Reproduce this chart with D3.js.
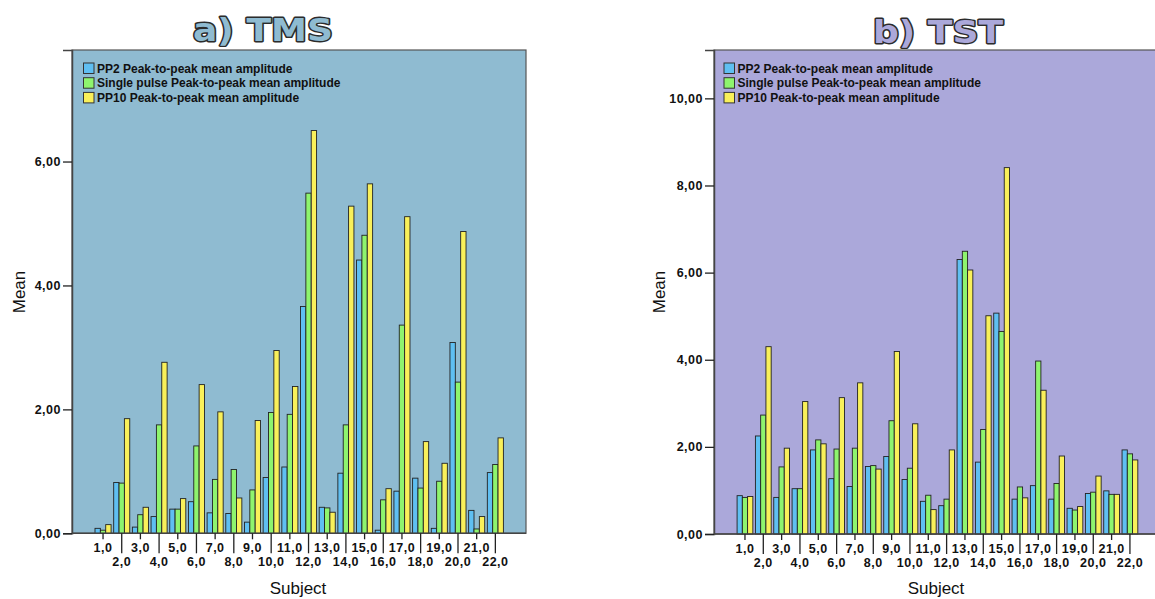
<!DOCTYPE html>
<html lang="en">
<head>
    <meta charset="utf-8"/>
    <title>TMS / TST peak-to-peak amplitudes</title>
    <script src="https://d3js.org/d3.v7.min.js"></script>
    <style>
        body { margin: 0; background: #fff; }
        text { font-family: "Liberation Sans", Arial, sans-serif; }
        .tick text { font-weight: bold; font-size: 12.5px; fill: #111; letter-spacing: 0.5px; }
    </style>
</head>
<body>
<div id="viz">
    <svg width="1155" height="599"></svg>
</div>

<script type="text/javascript">

    // categorias (sujetos)
    const subjects = [1, 2, 3, 4, 5, 6, 7, 8, 9, 10, 11, 12, 13, 14, 15, 16, 17, 18, 19, 20, 21, 22];
    const seriesNames = ["PP2 Peak-to-peak mean amplitude",
        "Single pulse Peak-to-peak mean amplitude",
        "PP10 Peak-to-peak mean amplitude"];

    // a) TMS
    const tmsPP2 = [0.08, 0.82, 0.10, 0.27, 0.39, 0.51, 0.33, 0.32, 0.18, 0.90, 1.07, 3.66,
        0.42, 0.97, 4.41, 0.05, 0.68, 0.89, 0.08, 3.08, 0.37, 0.98];
    const tmsSingle = [0.05, 0.81, 0.30, 1.75, 0.39, 1.41, 0.87, 1.03, 0.70, 1.95, 1.92, 5.49,
        0.41, 1.75, 4.81, 0.54, 3.36, 0.73, 0.84, 2.44, 0.07, 1.11];
    const tmsPP10 = [0.14, 1.85, 0.42, 2.76, 0.56, 2.40, 1.96, 0.57, 1.82, 2.95, 2.37, 6.50,
        0.34, 5.28, 5.64, 0.72, 5.11, 1.48, 1.13, 4.87, 0.27, 1.54];
    const tmsTicks = [0, 2, 4, 6];

    // b) TST
    const tstPP2 = [0.88, 2.25, 0.84, 1.04, 1.93, 1.27, 1.09, 1.55, 1.78, 1.25, 0.75, 0.65,
        6.30, 1.65, 5.07, 0.80, 1.11, 0.80, 0.59, 0.93, 0.99, 1.93];
    const tstSingle = [0.84, 2.73, 1.54, 1.04, 2.16, 1.95, 1.97, 1.57, 2.60, 1.51, 0.89, 0.80,
        6.49, 2.40, 4.65, 1.08, 3.97, 1.16, 0.55, 0.96, 0.91, 1.84];
    const tstPP10 = [0.86, 4.30, 1.97, 3.04, 2.07, 3.13, 3.47, 1.49, 4.19, 2.53, 0.56, 1.93,
        6.06, 5.01, 8.41, 0.83, 3.30, 1.79, 0.63, 1.33, 0.91, 1.70];
    const tstTicks = [0, 2, 4, 6, 8, 10];

    // colores
    const barColors = ["#5fbff2", "#8ef46e", "#f9f05a"];

    const svg = d3.select("svg");
    const fmtY = d => d3.format(".2f")(d).replace(".", ",");
    const fmtX = d => d3.format(".1f")(d).replace(".", ",");

    /*
    * dibuja un panel completo
    */
    function drawPanel(p) {
        const table = subjects.map((s, i) => ({subject: s, values: p.series.map(v => v[i])}));

        let y = d3.scaleLinear().domain([0, p.yMax]).range([p.bottom, p.top]);
        let x = d3.scaleBand().domain(subjects).range(p.bandRange)
            .paddingInner(0.14).paddingOuter(0.07);
        let xs = d3.scaleBand().domain([0, 1, 2]).range([0, x.bandwidth()]);

        // fondo
        svg.append("rect")
            .attr("x", p.left).attr("y", p.top)
            .attr("width", p.right - p.left).attr("height", p.bottom - p.top)
            .attr("fill", p.bg)
            .attr("stroke", "#555").attr("stroke-width", 1.2);

        // barras
        let groups = svg.append("g").selectAll("g")
            .data(table).enter()
            .append("g")
            .attr("transform", d => "translate(" + x(d.subject) + ",0)");

        groups.selectAll("rect")
            .data(d => d.values).enter()
            .append("rect")
            .attr("x", (d, i) => xs(i))
            .attr("y", d => y(d))
            .attr("width", xs.bandwidth())
            .attr("height", d => y(0) - y(d))
            .attr("fill", (d, i) => barColors[i])
            .attr("stroke", "#222")
            .attr("stroke-width", 0.9);

        // eje y
        let yAxis = d3.axisLeft(y).tickValues(p.ticks).tickSize(9).tickPadding(2).tickFormat(fmtY);
        let gy = svg.append("g")
            .attr("transform", "translate(" + p.left + ",0)")
            .call(yAxis);
        gy.select(".domain").attr("stroke", "#444").attr("stroke-width", 1.5);
        gy.selectAll(".tick line").attr("stroke", "#222").attr("stroke-width", 1.3);

        // eje x, los pares van con linea larga y en segunda fila
        let xAxis = d3.axisBottom(x).tickSize(6).tickPadding(5).tickFormat(fmtX);
        let gx = svg.append("g")
            .attr("transform", "translate(0," + p.bottom + ")")
            .call(xAxis);
        gx.select(".domain")
            .attr("d", "M" + p.left + ",0H" + p.right)
            .attr("stroke", "#444").attr("stroke-width", 1.6);
        gx.selectAll(".tick line")
            .attr("stroke", "#222").attr("stroke-width", 1.3)
            .attr("y2", d => d % 2 === 0 ? 20 : 6);
        gx.selectAll(".tick text")
            .attr("y", d => d % 2 === 0 ? 24 : 10);

        // titulos de ejes
        svg.append("text")
            .attr("transform", "translate(" + p.meanX + ",292) rotate(-90)")
            .attr("text-anchor", "middle").attr("dy", "0.35em")
            .style("font-size", "17px").style("fill", "#111")
            .text("Mean");
        svg.append("text")
            .attr("x", p.subjectX).attr("y", 594)
            .attr("text-anchor", "middle")
            .style("font-size", "17px").style("fill", "#111")
            .text("Subject");

        // titulo del panel
        svg.append("text")
            .attr("x", p.titleX).attr("y", p.titleY)
            .attr("text-anchor", "middle")
            .attr("textLength", p.titleW).attr("lengthAdjust", "spacingAndGlyphs")
            .style("font-family", "'DejaVu Sans', sans-serif")
            .style("font-weight", "bold").style("font-size", "32px")
            .style("fill", p.bg).style("stroke", "#2b2b2b").style("stroke-width", 2.8)
            .style("stroke-linejoin", "round")
            .style("paint-order", "stroke")
            .text(p.title);

        // leyenda
        let lg = svg.append("g").attr("transform", "translate(" + p.legendX + ",63)");
        let rows = lg.selectAll("g").data(seriesNames).enter()
            .append("g")
            .attr("transform", (d, i) => "translate(0," + (i * 14.7) + ")");
        rows.append("rect")
            .attr("width", 10.5).attr("height", 10.5)
            .attr("fill", (d, i) => barColors[i])
            .attr("stroke", "#333").attr("stroke-width", 1);
        rows.append("text")
            .attr("x", 13.5).attr("y", 9.6)
            .style("font-size", "12px").style("font-weight", "bold").style("fill", "#111")
            .text(d => d);
    }

    drawPanel({
        title: "a) TMS", titleX: 263, titleY: 41, titleW: 140,
        bg: "#8fbbd1",
        series: [tmsPP2, tmsSingle, tmsPP10], ticks: tmsTicks, yMax: 7.8,
        left: 72, right: 526, top: 50, bottom: 533.3,
        bandRange: [93.7, 504.7],
        legendX: 83.5, meanX: 19, subjectX: 298
    });

    drawPanel({
        title: "b) TST", titleX: 938, titleY: 43, titleW: 130,
        bg: "#aba8da",
        series: [tstPP2, tstSingle, tstPP10], ticks: tstTicks, yMax: 11.11,
        left: 714, right: 1162, top: 50, bottom: 534,
        bandRange: [735.8, 1139.1],
        legendX: 724, meanX: 659, subjectX: 936
    });

</script>
</body>
</html>
